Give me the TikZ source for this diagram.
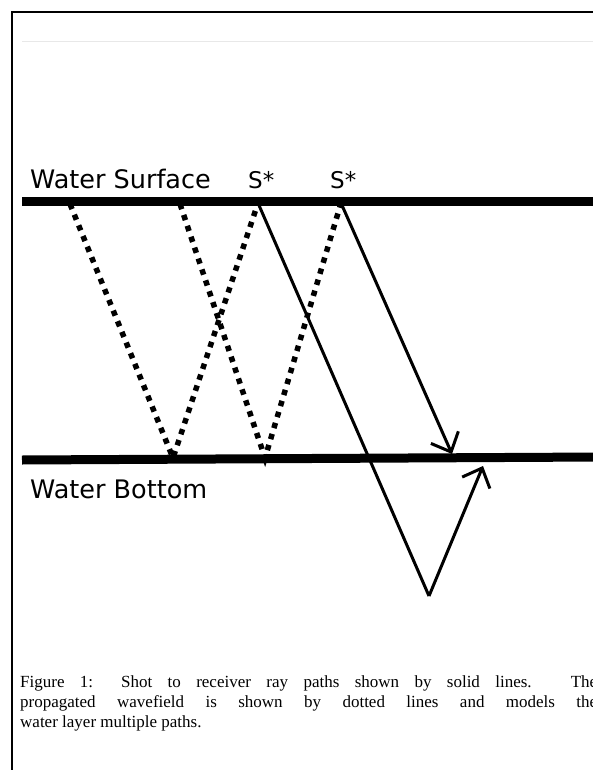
\documentclass[tikz,border=0pt]{standalone}
\usepackage{fontspec}
\setmainfont{Liberation Serif}
\newfontfamily\labelfont{DejaVu Sans}
\usetikzlibrary{arrows.meta}
\begin{document}
\begin{tikzpicture}[x=1pt,y=-1pt,
  frameline/.style={line width=2pt},
  grayrule/.style={line width=1pt, color=black!9},
  sea/.style={line width=9pt},
  ray/.style={line width=3pt, line join=round},
  wave/.style={line width=5.5pt, dash pattern=on 5.5pt off 6pt},
  barbtip/.style={-{Straight Barb[length=16pt,width=30pt,line width=3pt]}},
  lab/.style={font=\labelfont\fontsize{25.5}{30}\selectfont, inner sep=0pt, anchor=base west},
  slab/.style={font=\labelfont\fontsize{23}{27}\selectfont, inner sep=0pt, anchor=base west},
  capline/.style={font=\fontsize{17}{20}\selectfont, inner sep=0pt, anchor=base west}]
\useasboundingbox (0,0) rectangle (592,770);
% frame
\coordinate (fb) at (12,775);
\coordinate (fc) at (12,12);
\coordinate (fr) at (600,12);
\draw[frameline] (fb) -- (fc) -- (fr);
\coordinate (gl) at (22,42);
\coordinate (gr) at (600,42);
\draw[grayrule] (gl) -- (gr);
% ray points
\coordinate (p1) at (70,204);
\coordinate (v1) at (173,458);
\coordinate (s1) at (258,203);
\coordinate (p2) at (180,204);
\coordinate (v2) at (265,458);
\coordinate (s2) at (341,203);
\coordinate (b) at (429,596);
\coordinate (t1) at (452,454);
\coordinate (t2) at (483,466);
% dotted wavefield paths
\draw[wave] (p1) -- (v1) -- (s1);
\draw[wave] (p2) -- (v2) -- (s2);
% water layers
\coordinate (wsl) at (22,201.5);
\coordinate (wsr) at (600,201.5);
\coordinate (wbl) at (22,460);
\coordinate (wbr) at (600,457);
\draw[sea] (wsl) -- (wsr);
\draw[sea] (wbl) -- (wbr);
% solid shot-receiver rays
\draw[ray] (s1) -- (b);
\draw[ray, barbtip] (b) -- (t2);
\draw[ray, barbtip] (s2) -- (t1);
% labels
\node[lab] (ws) at (30,188) {Water Surface};
\node[slab] (sa) at (248,188) {S*};
\node[slab] (sb) at (330,188) {S*};
\node[lab] (wb) at (30,498) {Water Bottom};
% caption
\node[capline] (c1) at (20,687) {\makebox[577pt][s]{Figure 1:  Shot to receiver ray paths shown by solid lines.  The}};
\node[capline] (c2) at (20,707) {\makebox[577pt][s]{propagated wavefield is shown by dotted lines and models the}};
\node[capline] (c3) at (20,727) {water layer multiple paths.};
\end{tikzpicture}
\end{document}
